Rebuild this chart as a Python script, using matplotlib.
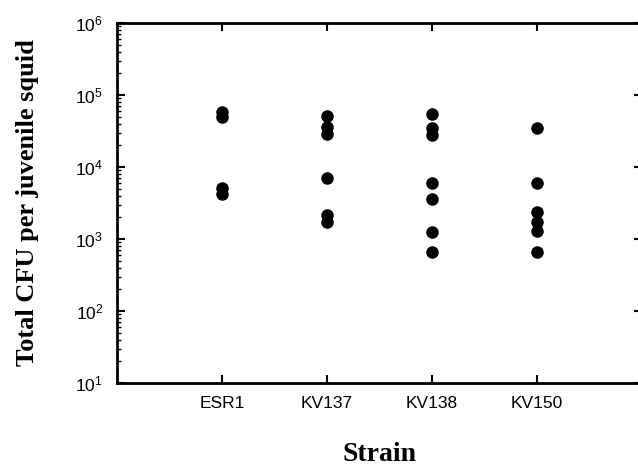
import matplotlib.pyplot as plt
import numpy as np

strains = ["ESR1", "KV137", "KV138", "KV150"]
esr1 = [58000, 49000, 5100, 4200]
kv137 = [51000, 35500, 29000, 7100, 2150, 1700]
kv138 = [54500, 34500, 28000, 5950, 3600, 1260, 670]
kv150 = [35000, 5950, 2400, 1750, 1300, 670]

plt.rcParams["mathtext.fontset"] = "custom"
plt.rcParams["mathtext.rm"] = "Liberation Sans"
plt.rcParams["mathtext.it"] = "Liberation Sans"
plt.rcParams["font.family"] = "Liberation Sans"

fig = plt.figure(figsize=(6.38, 4.71), dpi=100)
ax = fig.add_axes([117 / 638, 88 / 471, 525 / 638, 360 / 471])

for i, vals in enumerate([esr1, kv137, kv138, kv150]):
    ax.plot(np.full(len(vals), i + 1), vals, "o", color="black",
            markersize=8, linestyle="none")

ax.set_yscale("log")
ax.set_ylim(10, 1e6)
ax.set_xlim(0, 5)
ax.set_xticks(range(1, 5))
ax.set_xticklabels(strains, fontsize=12.5)

for s in ax.spines.values():
    s.set_linewidth(2)

ax.tick_params(axis="both", which="major", direction="in", length=6, width=1.5,
               top=True, right=True)
ax.tick_params(axis="both", which="minor", direction="in", length=3, width=1,
               right=True)
ax.tick_params(axis="y", which="major", labelsize=12.5, pad=10)
ax.tick_params(axis="x", which="major", pad=9)

ax.set_ylabel("Total CFU per juvenile squid", family="Liberation Serif",
              fontweight="bold", fontsize=19, labelpad=26)
ax.set_xlabel("Strain", family="Liberation Serif", fontweight="bold",
              fontsize=20, labelpad=23)

fig.savefig("out.png", dpi=100)
